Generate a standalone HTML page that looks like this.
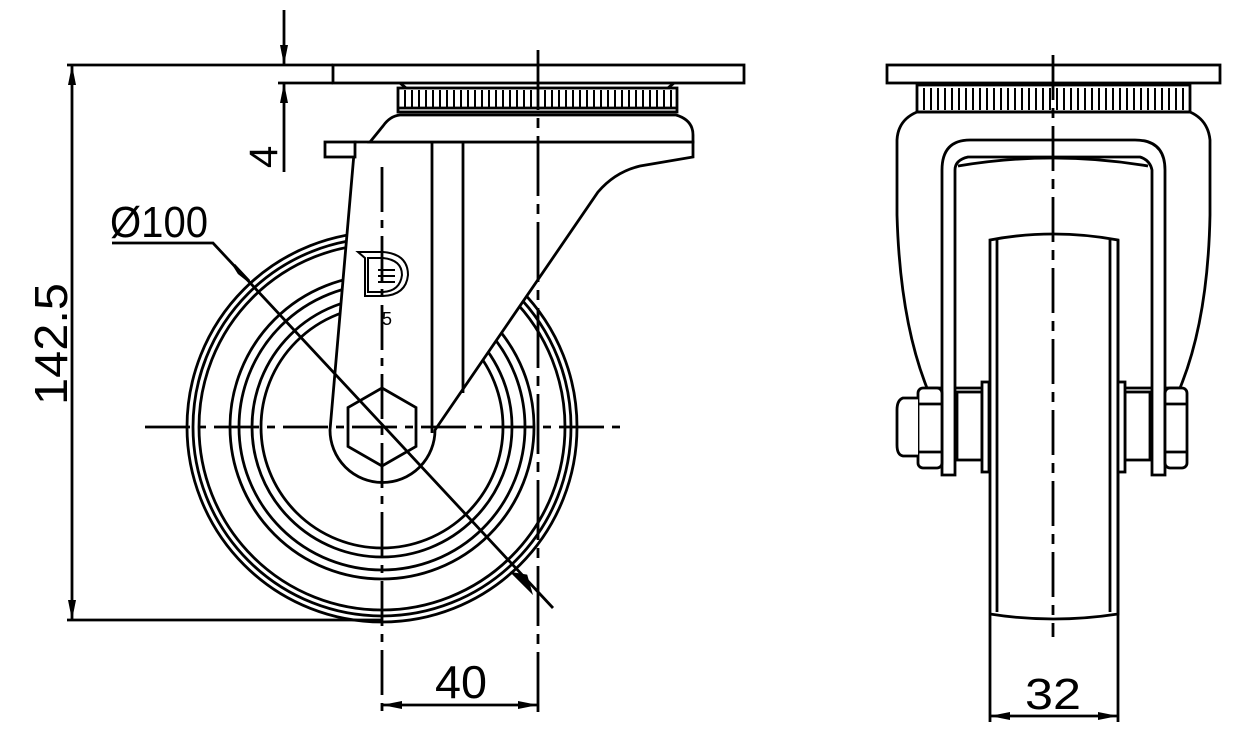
<!DOCTYPE html>
<html><head><meta charset="utf-8"><style>html,body{margin:0;padding:0;background:#fff}svg{display:block}</style></head>
<body>
<svg width="1247" height="745" viewBox="0 0 1247 745" xmlns="http://www.w3.org/2000/svg">
<defs>
<marker id="ar" viewBox="0 0 20 8" refX="20" refY="4" markerWidth="20" markerHeight="8" markerUnits="userSpaceOnUse" orient="auto-start-reverse"><path d="M0,0 L20,4 L0,8 Z" fill="#000"/></marker>
</defs>
<g fill="none" stroke="#000" stroke-width="2.8">
<circle cx="382" cy="427" r="195"/><circle cx="382" cy="427" r="189"/><circle cx="382" cy="427" r="183"/>
<circle cx="382" cy="427" r="152"/><circle cx="382" cy="427" r="143"/>
<circle cx="382" cy="427" r="130"/><circle cx="382" cy="427" r="121"/>
<path fill="#fff" d="M355,142 L693,142 L693,157 L640,166 Q615,172 598,192 L435,430 A52,52 0 0 1 330,430 Z"/>
<path fill="#fff" d="M370,142 L383,126 Q390,116 400,115 L676,115 Q693,120 693,135 L693,142 Z"/>
<rect x="325" y="142" width="30" height="15" fill="#fff"/>
<line x1="432" y1="142" x2="432" y2="433"/>
<line x1="463" y1="142" x2="463" y2="393"/>
<polygon points="382,388 416,407.5 416,446.5 382,466 348,446.5 348,407.5"/>
<rect x="333" y="65" width="411" height="18" fill="#fff"/>
<path d="M400,83 L406,88 M674,83 L668,88"/>
<rect x="398" y="88" width="279" height="24" fill="#fff"/>
<line x1="398" y1="108" x2="677" y2="108"/>
</g>
<g stroke="#000" stroke-width="2" id="ribs">
<path d="M405,90V108M412,90V108M419,90V108M426,90V108M433,90V108M440,90V108M447,90V108M454,90V108M461,90V108M468,90V108M475,90V108M482,90V108M489,90V108M496,90V108M503,90V108M510,90V108M517,90V108M524,90V108M531,90V108M538,90V108M545,90V108M552,90V108M559,90V108M566,90V108M573,90V108M580,90V108M587,90V108M594,90V108M601,90V108M608,90V108M615,90V108M622,90V108M629,90V108M636,90V108M643,90V108M650,90V108M657,90V108M664,90V108M671,90V108"/>
<path d="M924,88V110M931,88V110M938,88V110M945,88V110M952,88V110M959,88V110M966,88V110M973,88V110M980,88V110M987,88V110M994,88V110M1001,88V110M1008,88V110M1015,88V110M1022,88V110M1029,88V110M1036,88V110M1043,88V110M1050,88V110M1057,88V110M1064,88V110M1071,88V110M1078,88V110M1085,88V110M1092,88V110M1099,88V110M1106,88V110M1113,88V110M1120,88V110M1127,88V110M1134,88V110M1141,88V110M1148,88V110M1155,88V110M1162,88V110M1169,88V110M1176,88V110M1183,88V110"/>
</g>
<g fill="none" stroke="#000" stroke-width="2">
<path d="M358,252 L383,252 Q408,254 408,275 Q406,295 383,296 L365,296 L365,258 Z"/>
<path d="M368,258 L383,258 Q402,260 402,275 Q400,291 383,292 L368,292 Z"/>
<path d="M378,270 H395 M378,276 H395 M378,282 H395"/>
</g>
<text x="387" y="325" font-family="Liberation Sans, sans-serif" font-size="18" text-anchor="middle">5</text>
<g stroke="#000" stroke-width="2.8" fill="none">
<line x1="145" y1="427" x2="620" y2="427" stroke-dasharray="45,8,8,8"/>
<line x1="67" y1="65" x2="333" y2="65"/>
<line x1="278" y1="83" x2="333" y2="83"/>
<line x1="67" y1="620" x2="382" y2="620"/>
<line x1="72" y1="65" x2="72" y2="620" marker-start="url(#ar)" marker-end="url(#ar)"/>
<line x1="284" y1="10" x2="284" y2="65" marker-end="url(#ar)"/>
<line x1="284" y1="172" x2="284" y2="83" marker-end="url(#ar)"/>
<polyline points="112,243 213,243 553,608"/>
<line x1="382" y1="705" x2="538" y2="705" marker-start="url(#ar)" marker-end="url(#ar)"/>
</g>
<path d="M234,265 L249,281 L239,273 Z" fill="#000" stroke="#000" stroke-width="3"/>
<path d="M530,590 L514,574 L526,576 Z" fill="#000" stroke="#000" stroke-width="3"/>
<g font-family="Liberation Sans, sans-serif" fill="#000">
<text x="0" y="0" font-size="46" transform="translate(67,405) rotate(-90)" textLength="122" lengthAdjust="spacingAndGlyphs">142.5</text>
<text x="0" y="0" font-size="40" transform="translate(277,168) rotate(-90)">4</text>
<text x="110" y="237" font-size="44" textLength="98" lengthAdjust="spacingAndGlyphs">Ø100</text>
<text x="435" y="698" font-size="46" textLength="52" lengthAdjust="spacingAndGlyphs">40</text>
<text x="1025" y="709" font-size="44" textLength="56" lengthAdjust="spacingAndGlyphs">32</text>
</g>
<g fill="none" stroke="#000" stroke-width="2.8">
<path fill="#fff" d="M917,112 Q898,120 897,140 L897,215 Q900,320 927,388 L1180,388 Q1208,320 1210,215 L1210,140 Q1208,120 1190,112 Z"/>
<path fill="#fff" d="M942,475 L942,170 Q942,140 970,140 L1135,140 Q1165,140 1165,170 L1165,475 L1152,475 L1152,170 Q1150,160 1140,157 L968,157 Q955,160 955,170 L955,475 Z"/>
<path d="M958,166 Q1053,150 1148,166"/>
<path fill="#fff" d="M990,640 L990,240 Q1053,228 1118,240 L1118,612"/>
<path d="M990,614 Q1053,624 1118,614 L1118,240"/>
<line x1="997" y1="240" x2="997" y2="612"/><line x1="1110" y1="240" x2="1110" y2="612"/>
<rect x="957" y="392" width="25" height="68" fill="#fff"/>
<rect x="982" y="382" width="7" height="90" fill="#fff"/>
<rect x="1125" y="392" width="25" height="68" fill="#fff"/>
<rect x="1118" y="382" width="7" height="90" fill="#fff"/>
<rect x="918" y="388" width="24" height="80" rx="5" fill="#fff"/>
<path d="M918,404 H942 M918,452 H942"/>
<rect x="1165" y="388" width="22" height="80" rx="5" fill="#fff"/>
<path d="M1165,404 H1187 M1165,452 H1187"/>
<path d="M918,398 L903,398 Q897,400 897,410 L897,445 Q897,455 903,456 L918,456" fill="#fff"/>
<rect x="887" y="65" width="333" height="18" fill="#fff"/>
<rect x="917" y="85" width="273" height="27"/>
<line x1="990" y1="640" x2="990" y2="722"/><line x1="1118" y1="612" x2="1118" y2="722"/>
<line x1="990" y1="716" x2="1118" y2="716" marker-start="url(#ar)" marker-end="url(#ar)"/>
</g>
<g stroke="#000" stroke-width="2.8">
<line x1="1053" y1="55" x2="1053" y2="637" stroke-dasharray="45,8,10,8"/>
<line x1="382" y1="167" x2="382" y2="712" stroke-dasharray="45,8,8,8"/>
<line x1="538" y1="50" x2="538" y2="712" stroke-dasharray="60,8,10,8"/>
</g>
</svg>
</body></html>
